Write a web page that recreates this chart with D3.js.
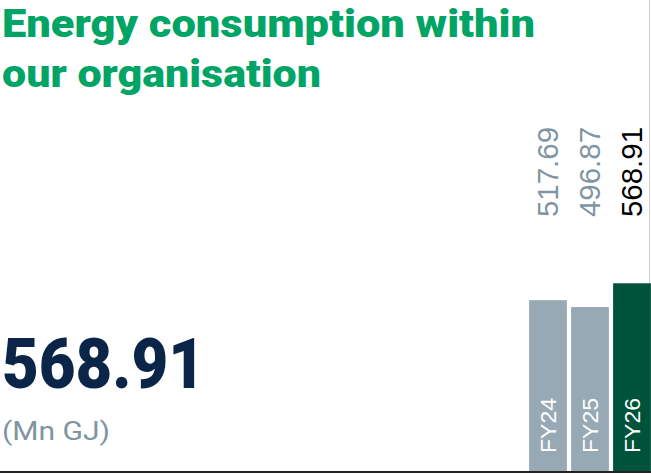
<!DOCTYPE html>
<html><head><meta charset="utf-8">
<script src="https://cdn.jsdelivr.net/npm/d3@7/dist/d3.min.js"></script>
<style>html,body{margin:0;padding:0;background:#fff;}svg{display:block;}</style>
</head><body>
<script>
const categories = ["FY24", "FY25", "FY26"];
const values = [517.69, 496.87, 568.91];
const valueLabels = ["517.69", "496.87", "568.91"];
const titleLines = ["Energy consumption within", "our organisation"];
const headline = "568.91";
const unit = "(Mn GJ)";

const W = 651, H = 474;
const svg = d3.select("body").append("svg").attr("width", W).attr("height", H);

const x = d3.scaleBand().domain(categories).range([527, 653]).paddingInner(0.1).paddingOuter(0.05);
const y = d3.scaleLinear().domain([0, 600]).range([471, 273]);

svg.append("line").attr("x1", 649.5).attr("x2", 649.5).attr("y1", 0).attr("y2", 471)
  .attr("stroke", "#c9d1d7").attr("stroke-width", 1);

const titleWidths = [533, 319];
svg.selectAll("text.title").data(titleLines).join("text").attr("class", "title")
  .attr("x", 2).attr("y", (d, i) => 37 + i * 50)
  .attr("font-family", "Roboto").attr("font-weight", 900).attr("font-size", 38)
  .attr("textLength", (d, i) => titleWidths[i]).attr("lengthAdjust", "spacingAndGlyphs")
  .attr("fill", "#00a566").text(d => d);

svg.append("text").attr("x", 2).attr("y", 388)
  .attr("font-family", "Roboto").attr("font-weight", 900).attr("font-size", 70)
  .attr("textLength", 203).attr("lengthAdjust", "spacingAndGlyphs")
  .attr("fill", "#0b2548").text(headline);

svg.append("text").attr("x", 2).attr("y", 440)
  .attr("font-family", "Roboto").attr("font-weight", 400).attr("font-size", 25)
  .attr("textLength", 108).attr("lengthAdjust", "spacingAndGlyphs")
  .attr("fill", "#7f95a3").text(unit);

const barColor = (d, i) => i === categories.length - 1 ? "#00533b" : "#97a9b5";
const labelColor = (d, i) => i === categories.length - 1 ? "#000000" : "#7f95a3";

svg.selectAll("rect.bar").data(values).join("rect").attr("class", "bar")
  .attr("x", (d, i) => x(categories[i])).attr("width", x.bandwidth())
  .attr("y", d => y(d)).attr("height", d => y(0) - y(d))
  .attr("fill", barColor);

svg.selectAll("text.val").data(valueLabels).join("text").attr("class", "val")
  .attr("transform", (d, i) => `translate(${x(categories[i]) + x.bandwidth() / 2},217) rotate(-90)`)
  .attr("dy", "0.36em")
  .attr("font-family", "Liberation Sans").attr("font-size", 29)
  .attr("textLength", 90).attr("lengthAdjust", "spacingAndGlyphs")
  .attr("fill", labelColor).text(d => d);

svg.selectAll("text.cat").data(categories).join("text").attr("class", "cat")
  .attr("transform", d => `translate(${x(d) + x.bandwidth() / 2},453) rotate(-90)`)
  .attr("dy", "0.36em")
  .attr("font-family", "Liberation Sans").attr("font-size", 22)
  .attr("textLength", 55).attr("lengthAdjust", "spacingAndGlyphs")
  .attr("fill", "#ffffff").text(d => d);

svg.append("line").attr("x1", 0).attr("x2", W).attr("y1", 472).attr("y2", 472)
  .attr("stroke", "#222").attr("stroke-width", 2);
</script>
</body></html>
